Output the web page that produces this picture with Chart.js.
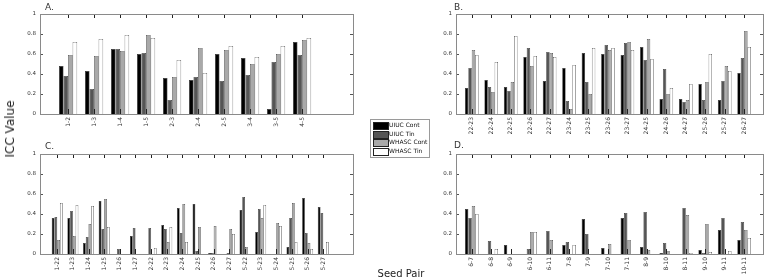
<!DOCTYPE html>
<html><head><meta charset="utf-8">
<script src="https://cdn.jsdelivr.net/npm/chart.js@4/dist/chart.umd.min.js"></script>
<style>
html,body{margin:0;padding:0;background:#fff;}
body{width:765px;height:279px;overflow:hidden;position:relative;font-family:"DejaVu Sans",sans-serif;color:#222;}
canvas{position:absolute;}
.t{position:absolute;font-size:9px;line-height:9px;color:#333;}
#ylab{position:absolute;left:10px;top:129px;transform:translate(-50%,-50%) rotate(-90deg);font-size:12px;white-space:nowrap;color:#222;}
#xlab{position:absolute;left:401px;top:273px;transform:translate(-50%,-50%);font-size:10px;white-space:nowrap;color:#222;}
#legend{position:absolute;left:370px;top:119px;width:58px;height:37px;border:1px solid #9a9a9a;background:#fff;}
.li{position:absolute;left:1px;height:8px;font-size:6px;line-height:8px;white-space:nowrap;color:#111;}
.sw{position:absolute;left:1px;top:1px;width:14px;height:6px;border:0.5px solid #222;}
.lt{position:absolute;left:17px;top:0;}
</style></head><body>
<canvas id="cA" width="356" height="140" style="left:0;top:0"></canvas>
<canvas id="cB" width="365" height="140" style="left:400px;top:0"></canvas>
<canvas id="cC" width="356" height="139" style="left:0;top:140px"></canvas>
<canvas id="cD" width="365" height="139" style="left:400px;top:140px"></canvas>
<div class="t" style="left:45px;top:3px">A.</div>
<div class="t" style="left:454px;top:3px">B.</div>
<div class="t" style="left:45px;top:142px">C.</div>
<div class="t" style="left:454px;top:141px">D.</div>
<div id="ylab">ICC Value</div>
<div id="xlab">Seed Pair</div>
<div id="legend"></div>
<script>
// ---- data ----
const seriesNames = ['UIUC Cont','UIUC Tin','WHASC Cont','WHASC Tin'];
const seriesColors = ['#000000','#555555','#a9a9a9','#ffffff'];
const yTicks = [0, 0.2, 0.4, 0.6, 0.8, 1];

const catsA = ['1-2','1-3','1-4','1-5','2-3','2-4','2-5','3-4','3-5','4-5'];
const uiucContA  = [0.48,0.43,0.65,0.60,0.36,0.34,0.60,0.56,0.05,0.72];
const uiucTinA   = [0.38,0.25,0.65,0.61,0.14,0.37,0.33,0.39,0.52,0.59];
const whascContA = [0.59,0.58,0.63,0.79,0.37,0.66,0.64,0.50,0.60,0.74];
const whascTinA  = [0.72,0.75,0.79,0.76,0.54,0.41,0.68,0.57,0.68,0.76];

const catsB = ['22-23','22-24','22-25','22-26','22-27','23-24','23-25','23-26','23-27','24-25','24-26','24-27','25-26','25-27','26-27'];
const uiucContB  = [0.26,0.34,0.27,0.57,0.33,0.46,0.61,0.60,0.59,0.67,0.15,0.15,0.30,0.14,0.41];
const uiucTinB   = [0.46,0.27,0.23,0.66,0.62,0.13,0.32,0.69,0.71,0.54,0.45,0.12,0.14,0.33,0.56];
const whascContB = [0.64,0.22,0.32,0.48,0.61,0.05,0.20,0.64,0.72,0.75,0.20,0.14,0.32,0.48,0.83];
const whascTinB  = [0.59,0.52,0.78,0.58,0.57,0.49,0.66,0.66,0.64,0.55,0.26,0.30,0.60,0.43,0.67];

const catsC = ['1-22','1-23','1-24','1-25','1-26','1-27','2-22','2-23','2-24','2-25','2-26','2-27','5-22','5-23','5-24','5-25','5-26','5-27'];
const uiucContC  = [0.36,0.36,0.11,0.53,0,0.18,0,0.29,0.46,0.50,0.01,0,0.44,0.22,0,0.07,0.56,0.47];
const uiucTinC   = [0.37,0.43,0.17,0.25,0.05,0.26,0.26,0.25,0.21,0.03,0.01,0.01,0.57,0.45,0,0.36,0.21,0.41];
const whascContC = [0.14,0.18,0.30,0.55,0,0,0,0.12,0.50,0.27,0.28,0.25,0.07,0.36,0.31,0.51,0.11,0];
const whascTinC  = [0.51,0.49,0.48,0.27,0,0,0.06,0.27,0.12,0,0,0.20,0,0.49,0.28,0.12,0.05,0.12];

const catsD = ['6-7','6-8','6-9','6-10','6-11','7-8','7-9','7-10','7-11','8-9','8-10','8-11','9-10','9-11','10-11'];
const uiucContD  = [0.45,0,0.09,0,0,0.09,0.35,0.06,0.36,0.07,0.01,0,0.04,0.24,0.14];
const uiucTinD   = [0.36,0.13,0,0.05,0.23,0.12,0.20,0,0.41,0.42,0.11,0.46,0.01,0.36,0.32];
const whascContD = [0.48,0,0,0.22,0.14,0,0,0.10,0.14,0.04,0.03,0.39,0.30,0,0.24];
const whascTinD  = [0.40,0.05,0,0.22,0,0.09,0,0,0,0,0,0.01,0.02,0.03,0.16];

// ---- drawing ----
const framePlugin = {
  id: 'frame',
  afterDatasetsDraw(chart) {
    const {ctx, chartArea: a, scales} = chart;
    const x = scales.x, y = scales.y;
    ctx.save();
    ctx.lineWidth = 1;
    const line = (x1, y1, x2, y2) => { ctx.beginPath(); ctx.moveTo(x1, y1); ctx.lineTo(x2, y2); ctx.stroke(); };
    ctx.strokeStyle = '#222';
    x.ticks.forEach(t => {
      const px = Math.round(x.getPixelForValue(t.value)) + 0.5;
      line(px, a.top, px, a.top + 4);
      line(px, a.bottom, px, a.bottom - 5);
    });
    ctx.strokeStyle = '#555';
    y.ticks.forEach(t => {
      const py = Math.round(y.getPixelForValue(t.value)) + 0.5;
      line(a.left, py, a.left + 3, py);
      line(a.right, py, a.right - 3, py);
    });
    ctx.strokeStyle = '#8a8a8a';
    ctx.strokeRect(Math.round(a.left) + 0.5, Math.round(a.top) + 0.5, Math.round(a.right - a.left), Math.round(a.bottom - a.top));
    ctx.restore();
  }
};

function makePanel(id, cats, series, xmin, xmax, yWidth, xHeight, padRight) {
  const datasets = series.map((vals, s) => ({
    label: seriesNames[s],
    data: cats.map((c, i) => ({x: i + 1, y: vals[i] > 0 ? vals[i] : null})),
    backgroundColor: seriesColors[s],
    borderColor: '#222',
    borderWidth: 0.6,
    borderSkipped: 'start',
    categoryPercentage: 0.7,
    barPercentage: 1.0
  }));
  new Chart(document.getElementById(id), {
    type: 'bar',
    data: {datasets},
    plugins: [framePlugin],
    options: {
      responsive: false,
      animation: false,
      events: [],
      layout: {padding: {top: 14, right: padRight, left: 0, bottom: 0}},
      plugins: {legend: {display: false}, tooltip: {enabled: false}, title: {display: false}},
      scales: {
        x: {
          type: 'linear', offset: false, min: xmin, max: xmax,
          grid: {display: false, drawTicks: false},
          border: {display: false},
          afterBuildTicks: (sc) => { sc.ticks = cats.map((c, i) => ({value: i + 1})); },
          afterFit: (sc) => { sc.height = xHeight; },
          ticks: {
            autoSkip: false, minRotation: 90, maxRotation: 90, padding: 3,
            color: '#333', font: {family: 'DejaVu Sans', size: 6},
            callback: (v, i) => cats[i]
          }
        },
        y: {
          min: 0, max: 1,
          grid: {display: false, drawTicks: false},
          border: {display: false},
          afterBuildTicks: (sc) => { sc.ticks = yTicks.map(v => ({value: v})); },
          afterFit: (sc) => { sc.width = yWidth; },
          ticks: {padding: 4, color: '#333', font: {family: 'DejaVu Sans', size: 5.5},
            callback: (v) => String(v)}
        }
      }
    }
  });
}

makePanel('cA', catsA, [uiucContA, uiucTinA, whascContA, whascTinA], -0.08, 11.96, 40, 26, 3);
makePanel('cB', catsB, [uiucContB, uiucTinB, whascContB, whascTinB], 0.19, 15.97, 56, 26, 2);
makePanel('cC', catsC, [uiucContC, uiucTinC, whascContC, whascTinC], -0.1, 19.9, 40, 25, 3);
makePanel('cD', catsD, [uiucContD, uiucTinD, whascContD, whascTinD], 0.19, 15.97, 56, 25, 2);

// legend
const lg = document.getElementById('legend');
seriesNames.forEach((n, i) => {
  const row = document.createElement('div');
  row.className = 'li';
  row.style.top = (1 + i * 8.7) + 'px';
  row.innerHTML = '<span class="sw" style="background:' + seriesColors[i] + '"></span><span class="lt">' + n + '</span>';
  lg.appendChild(row);
});
</script>
</body></html>
